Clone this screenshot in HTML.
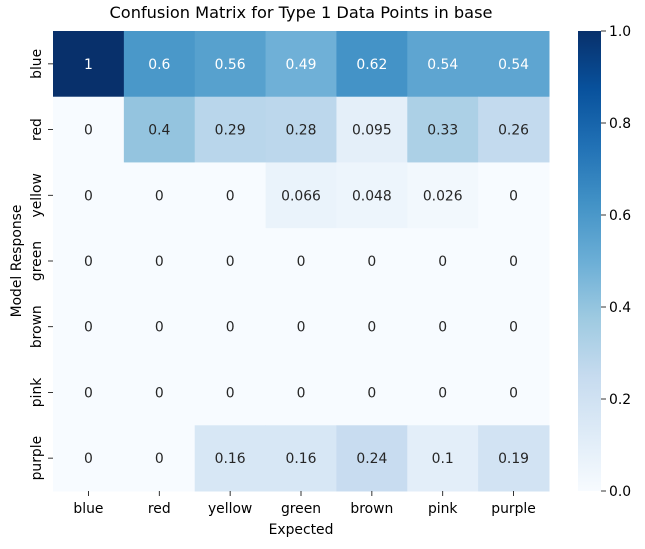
<!DOCTYPE html>
<html><head><meta charset="utf-8"><style>
body{margin:0;background:#fff;font-family:"DejaVu Sans","Liberation Sans",sans-serif;}
svg text{font-family:"DejaVu Sans","Liberation Sans",sans-serif;}
</style></head><body>
<svg id="chart" width="645" height="545" xmlns="http://www.w3.org/2000/svg"></svg>
<script>
const xCategories = ["blue","red","yellow","green","brown","pink","purple"];
const yCategories = ["blue","red","yellow","green","brown","pink","purple"];
const rowBlue = [1,0.6,0.56,0.49,0.62,0.54,0.54];
const rowRed = [0,0.4,0.29,0.28,0.095,0.33,0.26];
const rowYellow = [0,0,0,0.066,0.048,0.026,0];
const rowGreen = [0,0,0,0,0,0,0];
const rowBrown = [0,0,0,0,0,0,0];
const rowPink = [0,0,0,0,0,0,0];
const rowPurple = [0,0,0.16,0.16,0.24,0.1,0.19];
const matrix = [rowBlue,rowRed,rowYellow,rowGreen,rowBrown,rowPink,rowPurple];
const cbTicks = [0,0.2,0.4,0.6,0.8,1.0];
const cbTickLabels = ["0.0","0.2","0.4","0.6","0.8","1.0"];

const NS="http://www.w3.org/2000/svg";
const svg=document.getElementById('chart');
const L=53,T=31,W=496,H=460;
const FS=13.9;
const cw=W/xCategories.length, ch=H/yCategories.length;
const vmin=0,vmax=1;
const stops=["#f7fbff","#deebf7","#c6dbef","#9ecae1","#6baed6","#4292c6","#2171b5","#08519c","#08306b"].map(h=>[parseInt(h.slice(1,3),16),parseInt(h.slice(3,5),16),parseInt(h.slice(5,7),16)]);
function color(v){let t=Math.max(0,Math.min(1,(v-vmin)/(vmax-vmin)))*(stops.length-1);let i=Math.min(Math.floor(t),stops.length-2);let f=t-i;let c=stops[i].map((a,k)=>Math.round(a+(stops[i+1][k]-a)*f));return `rgb(${c[0]},${c[1]},${c[2]})`;}
function xs(i){return L+i*cw;}
function ys(j){return T+j*ch;}
function mk(tag,attrs,txt){const e=document.createElementNS(NS,tag);for(const k in attrs)e.setAttribute(k,attrs[k]);if(txt!==undefined)e.textContent=txt;svg.appendChild(e);return e;}
function fmt(v){return String(Number(v.toPrecision(2)));}

let t=mk('text',{x:L+W/2,y:18,'text-anchor':'middle','font-size':16.2,fill:'#000'},"Confusion Matrix for Type 1 Data Points in base");



matrix.forEach((row,j)=>row.forEach((v,i)=>{
  const r=mk('rect',{x:xs(i),y:ys(j),width:cw+0.5,height:ch+0.5,fill:color(v)});
  
  
  const tx=mk('text',{x:xs(i)+cw/2,y:ys(j)+ch/2+5,'text-anchor':'middle','font-size':FS,fill:v>0.45?'#fff':'#262626'},fmt(v));
  
  
}));

xCategories.forEach((c,i)=>{
  const x=xs(i)+cw/2;
  const tk=mk('line',{x1:x,y1:T+H,x2:x,y2:T+H+5,stroke:'#000','stroke-width':0.8});
  
  
  const lb=mk('text',{x:x,y:T+H+22,'text-anchor':'middle','font-size':FS,fill:'#000'},c);
  
  
});
yCategories.forEach((c,j)=>{
  const y=ys(j)+ch/2;
  const tk=mk('line',{x1:L-5,y1:y,x2:L,y2:y,stroke:'#000','stroke-width':0.8});
  
  
  const lb=mk('text',{x:0,y:0,'text-anchor':'middle','font-size':FS,fill:'#000',transform:`translate(${L-12},${y}) rotate(-90)`},c);
  
  
});
let xt=mk('text',{x:L+W/2,y:534,'text-anchor':'middle','font-size':FS,fill:'#000'},"Expected");


let yt=mk('text',{x:0,y:0,'text-anchor':'middle','font-size':FS,fill:'#000',transform:`translate(21,${T+H/2}) rotate(-90)`},"Model Response");



// colorbar
const CX=578,CW=23;
const defs=mk('defs',{});
const g=document.createElementNS(NS,'linearGradient');
g.setAttribute('id','cbg');g.setAttribute('x1','0');g.setAttribute('y1','1');g.setAttribute('x2','0');g.setAttribute('y2','0');
stops.forEach((s,k)=>{const st=document.createElementNS(NS,'stop');st.setAttribute('offset',k/(stops.length-1));st.setAttribute('stop-color',`rgb(${s[0]},${s[1]},${s[2]})`);g.appendChild(st);});
defs.appendChild(g);
const cb=mk('rect',{x:CX,y:T,width:CW,height:H,fill:'url(#cbg)'});


function cy(v){return T+H-(v-vmin)/(vmax-vmin)*H;}
cbTicks.forEach((v,k)=>{
  const tk=mk('line',{x1:CX+CW,y1:cy(v),x2:CX+CW+5,y2:cy(v),stroke:'#000','stroke-width':0.8});
  
  
  const lb=mk('text',{x:CX+CW+8,y:cy(v)+5,'font-size':FS,fill:'#000'},cbTickLabels[k]);
  
  
});
</script>
</body></html>
